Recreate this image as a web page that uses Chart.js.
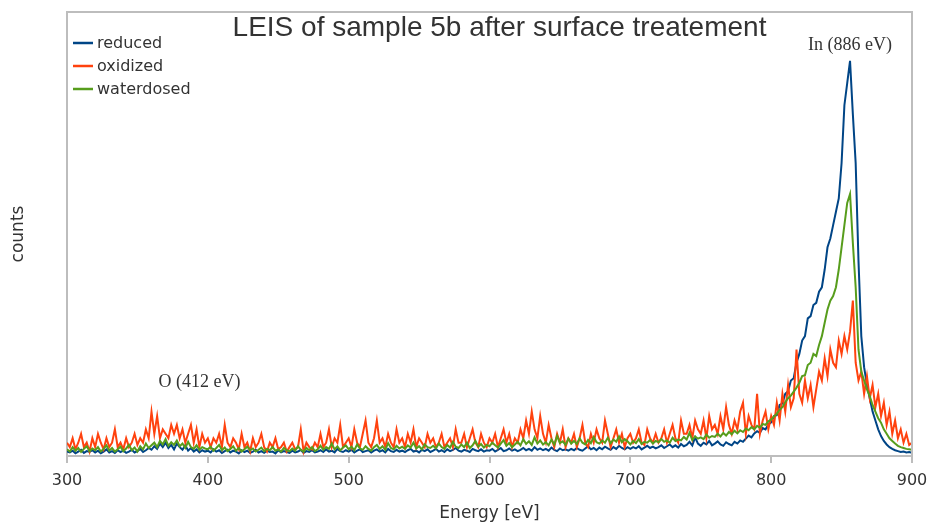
<!DOCTYPE html>
<html>
<head>
<meta charset="utf-8">
<title>LEIS of sample 5b after surface treatement</title>
<script src="https://cdn.jsdelivr.net/npm/chart.js@4.4.1/dist/chart.umd.min.js"></script>
<style>
  html, body { margin: 0; padding: 0; background: #fff; }
  #wrap { width: 929px; height: 524px; position: relative; }
</style>
</head>
<body>
<div id="wrap"><canvas id="leisChart"></canvas></div>
<script>
// energy grid of the spectra (eV)
const energyStart = 300;
const energyStep = 2;
const xTicks = [300, 400, 500, 600, 700, 800, 900];

const chartTitle = 'LEIS of sample 5b after surface treatement';
const seriesNames = ['reduced', 'oxidized', 'waterdosed'];
const seriesColors = ['#004586', '#ff420e', '#579d1c'];

// counts (arbitrary units), one row = 20 eV
const reduced = [
  1, 0.8, 1.2, 0.6, 1, 1.4, 0.7, 1.1, 0.9, 1.3,
  0.8, 1.2, 0.6, 1, 1.5, 0.8, 1.1, 0.7, 1.3, 0.9,
  1.2, 0.7, 1, 1.4, 0.8, 1.1, 1.6, 0.9, 1.3, 1.8,
  1.4, 2.2, 1.6, 2.8, 2, 3, 1.8, 2.5, 1.5, 2.8,
  2, 1.4, 2.4, 1.2, 1.8, 1, 1.5, 0.8, 1.3, 1,
  1.2, 0.8, 1.5, 1, 1.3, 0.7, 1.1, 1.4, 0.8, 1.2,
  1, 0.6, 1.3, 0.9, 1.2, 0.7, 1, 1.4, 0.8, 1.1,
  0.7, 1.2, 0.9, 1, 0.6, 1.3, 0.8, 1.1, 0.9, 0.7,
  1.2, 0.8, 1, 1.4, 0.7, 1.1, 0.9, 1.3, 0.8, 1,
  1.3, 0.9, 1.5, 1, 1.2, 0.8, 1.6, 1.1, 0.9, 1.3,
  1, 1.4, 0.8, 1.2, 1.5, 0.9, 1.1, 1.3, 0.8, 1.2,
  1.5, 1, 1.3, 0.8, 1.6, 1.1, 0.9, 1.4, 1, 1.2,
  0.9, 1.3, 1.6, 1, 1.2, 0.8, 1.4, 1.1, 1.5, 0.9,
  1.2, 1.6, 1, 1.3, 0.9, 1.5, 1.1, 1.4, 1.8, 1.2,
  1, 1.4, 1.2, 0.9, 1.6, 1.3, 1.1, 1.5, 1, 1.3,
  1.2, 1.6, 1, 1.4, 1.8, 1.1, 1.3, 1.7, 1.2, 1.5,
  1.1, 1.4, 1.8, 1.3, 1.6, 1.2, 2, 1.4, 1.7, 1.3,
  1.6, 1.2, 1.9, 1.4, 1.1, 1.7, 1.3, 1.5, 1.2, 1.6,
  1.3, 1.8, 1.4, 1.2, 1.7, 2.2, 1.5, 1.8, 1.3, 1.9,
  1.5, 2.1, 1.7, 1.4, 2, 1.6, 2.3, 1.8, 1.5, 2,
  1.6, 2, 1.7, 2.2, 1.5, 1.9, 2.3, 1.8, 2.1, 1.7,
  2, 2.4, 1.8, 2.2, 2.6, 2, 2.4, 1.9, 2.7, 2.2,
  2.5, 3.2, 2.4, 4.2, 2.8, 2.3, 3, 2.6, 3.4, 2.4,
  2.8, 3.3, 2.6, 2.3, 3.1, 2.7, 2.4, 3.2, 2.8, 3.5,
  3.2, 3.9, 4.6, 4.2, 5.1, 5.6, 5.2, 6.3, 6, 7.1,
  7.6, 9, 9.2, 11.5, 11.8, 14, 14.6, 17, 17.5, 21,
  23, 26, 27, 31, 31.5, 34, 34.5, 37, 38, 42,
  47, 49, 52, 55, 58, 66, 79, 84, 89, 77,
  66, 44, 27, 20, 16, 13, 10, 8, 6, 4.5,
  3.4, 2.6, 2, 1.6, 1.3, 1.1, 0.9, 1, 0.8, 0.9,
  0.7
];

const oxidized = [
  3, 2, 4, 1.5, 3, 5, 2, 3, 1, 4,
  2, 5, 3, 1.5, 4, 2, 3, 6, 2, 3,
  1.5, 4, 2, 3, 5, 2.5, 4, 3, 6, 4,
  10, 5, 9, 4, 6, 5, 4, 7, 5, 7,
  4, 6, 3, 5, 7, 3, 6, 2, 5, 3,
  4, 2, 4, 3, 5, 2, 7, 3, 2, 4,
  3, 1.5, 5, 2, 3, 1, 4, 2, 3, 5,
  2, 1, 3, 2, 4, 1.5, 2, 3, 1, 2,
  3, 1.5, 2, 6, 1, 3, 2, 1.5, 3, 2,
  5, 2, 3, 6, 2, 4, 3, 7, 2, 3,
  4, 2, 6, 3, 2, 5, 8, 3, 2, 4,
  8, 3, 4, 2, 5, 3, 2, 6, 3, 4,
  2, 5, 3, 6, 2, 4, 3, 2, 5, 3,
  4, 2, 3, 5, 2, 3, 4, 2, 6, 3,
  3, 5, 2, 4, 6, 3, 2, 5, 3, 2,
  4, 3, 5, 2, 4, 6, 3, 5, 2, 4,
  3, 6, 4, 8, 5, 10, 6, 4, 9, 5,
  3, 7, 4, 2, 5, 3, 6, 2, 4, 3,
  5, 2, 4, 7, 3, 2, 5, 3, 6, 4,
  3, 8, 5, 2, 4, 6, 3, 5, 2, 4,
  5, 3, 4, 6, 3, 2.5, 6, 4, 3, 5,
  3, 4, 6, 3, 5, 7, 4, 3, 8, 5,
  5, 7, 4, 8, 6, 5, 8, 4, 9, 6,
  7, 5, 9, 6, 11, 7, 5, 8, 6, 10,
  12, 5, 9, 7, 6, 14, 5, 8, 10, 6,
  9, 7, 12, 8, 14, 10, 16, 11, 13, 24,
  14, 12, 17, 13, 16, 11, 15, 19, 17, 22,
  18, 24, 21, 20, 26, 23, 27, 24, 28, 35,
  21, 17, 19, 14, 18, 13, 16, 11, 14, 9,
  12, 7, 10, 5, 8, 4, 6, 3, 5, 2.5,
  3
];

const waterdosed = [
  1.5, 1, 2, 1.2, 1.8, 0.9, 1.6, 2.2, 1.1, 1.7,
  1.3, 2, 1, 1.6, 2.4, 1.2, 1.8, 1, 1.5, 2.1,
  1.1, 1.7, 2.5, 1.3, 1.9, 1, 2.2, 1.5, 2.8, 1.8,
  2.4, 3, 2, 3.4, 2.6, 3.8, 2.3, 3.1, 2.5, 3.5,
  2.2, 2.8, 1.8, 3.2, 2, 1.6, 2.4, 1.4, 2, 1.7,
  1.5, 2.1, 1.2, 1.8, 2.5, 1.3, 1.9, 1.1, 1.6, 2.2,
  1.2, 1.8, 1, 1.5, 2.1, 1.3, 1.7, 1, 1.4, 1.9,
  1.1, 1.6, 1.3, 2, 1.2, 1.5, 1, 1.8, 1.3, 1.1,
  1.7, 1.2, 2.2, 1.4, 1, 1.8, 1.3, 2, 1.1, 1.5,
  2.3, 1.4, 2, 1.6, 2.8, 1.5, 2.2, 1.3, 1.9, 2.4,
  1.5, 2.1, 1.3, 2.6, 1.7, 1.4, 2.2, 1.6, 1.2, 2,
  2.5, 1.6, 2.2, 1.4, 2.9, 1.8, 1.5, 2.3, 1.7, 2.1,
  1.6, 2.4, 1.9, 3, 1.7, 2.2, 1.5, 2.6, 2, 1.8,
  2.3, 1.7, 2.8, 2, 1.6, 2.5, 1.9, 3.2, 2.1, 1.8,
  2.6, 2, 3, 1.8, 2.4, 3.4, 2.1, 2.7, 1.9, 2.5,
  2.2, 3, 2.4, 1.9, 2.8, 3.6, 2.3, 2.9, 2, 2.6,
  3.2, 2.4, 3.8, 2.7, 3.3, 2.5, 4.2, 2.8, 3.5, 2.6,
  3.1, 2.4, 3.7, 2.6, 4.5, 2.9, 3.3, 2.5, 3.9, 2.8,
  3.4, 2.7, 4, 3, 2.6, 3.6, 2.9, 4.3, 3.1, 2.8,
  3.5, 3, 4.1, 2.9, 3.7, 3.2, 4.4, 3.1, 3.8, 3.3,
  2.6, 3.4, 2.9, 3.8, 2.7, 3.2, 3, 3.6, 2.8, 3.4,
  3.1, 3.8, 3.2, 3.5, 3, 4.1, 3.4, 3.7, 3.5, 4.3,
  3.7, 5.2, 3.6, 4.4, 3.9, 4.2, 3.8, 4.8, 4.1, 4.5,
  4.3, 5, 4.4, 5.2, 4.6, 5.4, 4.9, 5.7, 5.1, 5.8,
  5.4, 6.2, 5.8, 6.5, 6, 6.8, 6.4, 7.2, 7, 7.8,
  8.2, 8.9, 9.5, 10.4, 11, 12.1, 13, 13.6, 14.5, 15.4,
  16.5, 18, 18.2, 20.5, 21, 23, 22.5, 25, 27, 30,
  33, 35, 36, 38, 42, 47, 52, 57, 59, 48,
  38, 24, 19, 17, 15, 13.5, 11.5, 10, 8.5, 7.5,
  6, 5, 4, 3.4, 2.8, 2.3, 2, 1.8, 1.6, 1.5,
  1.4
];

// peak labels, placed in data units (eV, counts)
const peakLabels = [
  { text: 'In (886 eV)', x: 856, y: 92.5 },
  { text: 'O (412 eV)', x: 394, y: 16.5 }
];

const energies = reduced.map((_, i) => energyStart + i * energyStep);
const seriesValues = [reduced, oxidized, waterdosed];

const textColor = '#333333';
const frameColor = '#bdbdbd';

// frame, title, legend and peak labels drawn on top of the chart
const decorPlugin = {
  id: 'decor',
  afterDraw(chart) {
    const { ctx, chartArea: area, scales } = chart;
    ctx.save();

    // top and right edges of the plot box
    ctx.strokeStyle = frameColor;
    ctx.lineWidth = 2;
    ctx.beginPath();
    ctx.moveTo(area.left, area.top);
    ctx.lineTo(area.right, area.top);
    ctx.lineTo(area.right, area.bottom);
    ctx.stroke();

    // title inside the plot box
    ctx.fillStyle = textColor;
    ctx.font = '28px "Liberation Sans", Arial, sans-serif';
    ctx.textAlign = 'center';
    ctx.textBaseline = 'alphabetic';
    ctx.fillText(chartTitle, (area.left + area.right) / 2 + 10, area.top + 24);

    // legend, top left
    ctx.font = '16px "DejaVu Sans", sans-serif';
    ctx.textAlign = 'left';
    ctx.textBaseline = 'middle';
    chart.data.datasets.forEach((ds, i) => {
      const y = area.top + 31 + i * 23;
      ctx.strokeStyle = ds.borderColor;
      ctx.lineWidth = 2.5;
      ctx.beginPath();
      ctx.moveTo(area.left + 6, y);
      ctx.lineTo(area.left + 26, y);
      ctx.stroke();
      ctx.fillStyle = textColor;
      ctx.fillText(ds.label, area.left + 30, y + 1);
    });

    // peak labels
    ctx.font = '18px "Liberation Serif", "Times New Roman", serif';
    ctx.textAlign = 'center';
    peakLabels.forEach(p => {
      ctx.fillText(p.text, scales.x.getPixelForValue(p.x), scales.y.getPixelForValue(p.y));
    });

    ctx.restore();
  }
};

const datasets = seriesNames.map((name, s) => ({
  label: name,
  data: energies.map((e, i) => ({ x: e, y: seriesValues[s][i] })),
  borderColor: seriesColors[s],
  backgroundColor: seriesColors[s],
  borderWidth: 2,
  pointRadius: 0,
  tension: 0,
  fill: false,
  order: seriesNames.length - s
}));

new Chart(document.getElementById('leisChart'), {
  type: 'line',
  data: { datasets: datasets },
  plugins: [decorPlugin],
  options: {
    responsive: true,
    maintainAspectRatio: false,
    animation: false,
    layout: { padding: { top: 12, right: 17, left: 0, bottom: 0 } },
    plugins: {
      legend: { display: false },
      tooltip: { enabled: false },
      title: { display: false }
    },
    scales: {
      x: {
        type: 'linear',
        min: 300,
        max: 900,
        afterBuildTicks: scale => { scale.ticks = xTicks.map(v => ({ value: v })); },
        afterFit: scale => {
          scale.height = 68;
          scale.paddingLeft = 0;
          scale.paddingRight = 0;
        },
        grid: { drawOnChartArea: false, drawTicks: true, tickLength: 7, color: frameColor, lineWidth: 2 },
        border: { color: frameColor, width: 2 },
        ticks: {
          color: textColor,
          padding: 8,
          font: { family: '"DejaVu Sans", sans-serif', size: 16 }
        },
        title: {
          display: true,
          text: 'Energy [eV]',
          color: textColor,
          padding: { top: 4, bottom: 0 },
          font: { family: '"DejaVu Sans", sans-serif', size: 17 }
        }
      },
      y: {
        min: 0,
        max: 100,
        afterFit: scale => { scale.width = 67; },
        grid: { display: false },
        border: { color: frameColor, width: 2 },
        ticks: { display: false },
        title: {
          display: true,
          text: 'counts',
          color: textColor,
          padding: { top: 8, bottom: 0 },
          font: { family: '"DejaVu Sans", sans-serif', size: 17 }
        }
      }
    }
  }
});
</script>
</body>
</html>
